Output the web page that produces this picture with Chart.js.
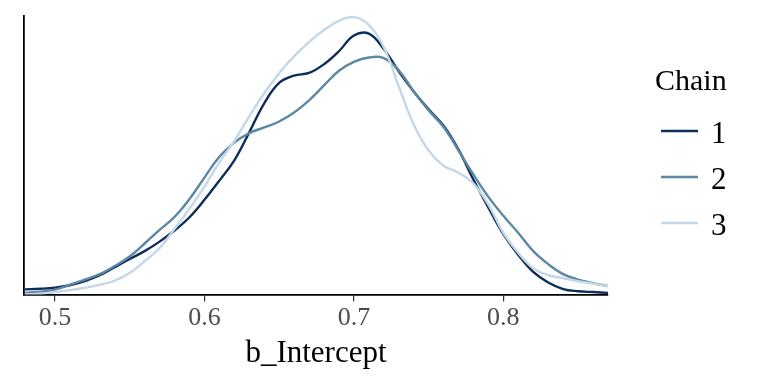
<!DOCTYPE html>
<html>
<head>
<meta charset="utf-8">
<script src="https://cdn.jsdelivr.net/npm/chart.js@4/dist/chart.umd.min.js"></script>
<style>
  html, body { margin: 0; padding: 0; background: #ffffff; }
  #wrap { width: 768px; height: 384px; position: relative; }
</style>
</head>
<body>
<div id="wrap"><canvas id="c" width="768" height="384"></canvas></div>
<script>
// x grid of the density estimates (b_Intercept)
const xValues = [0.48,0.49,0.50,0.51,0.52,0.53,0.54,0.55,0.56,0.57,0.58,0.59,0.60,0.61,0.62,0.63,0.64,0.65,0.66,0.67,0.68,0.69,0.70,0.71,0.72,0.73,0.74,0.75,0.76,0.77,0.78,0.79,0.80,0.81,0.82,0.83,0.84,0.85,0.86,0.87];
// density per chain
const chain1 = [0.19,0.21,0.25,0.34,0.49,0.71,1.01,1.31,1.60,1.95,2.36,2.85,3.49,4.20,4.95,5.98,7.05,7.80,8.07,8.17,8.49,8.97,9.55,9.62,9.05,8.23,7.49,6.83,6.22,5.34,4.23,3.20,2.23,1.46,0.83,0.44,0.20,0.12,0.09,0.06];
const chain2 = [0.06,0.10,0.18,0.36,0.55,0.75,1.05,1.40,1.88,2.38,2.86,3.52,4.31,5.08,5.60,5.95,6.16,6.38,6.71,7.16,7.71,8.25,8.58,8.74,8.72,8.27,7.49,6.79,6.18,5.31,4.42,3.60,2.90,2.27,1.60,1.12,0.75,0.55,0.42,0.31];
const chain3 = [0.01,0.03,0.09,0.16,0.25,0.36,0.51,0.79,1.23,1.71,2.42,3.16,3.97,4.87,5.66,6.57,7.42,8.16,8.79,9.31,9.75,10.09,10.23,9.94,9.12,7.68,6.27,5.31,4.75,4.49,4.09,3.31,2.27,1.53,0.97,0.71,0.60,0.49,0.40,0.31];
const chainLabels = ['1','2','3'];
const chainColors = ['#0d2d5a','#5a88a5','#c4d8e7'];
const xTicks = [0.5,0.6,0.7,0.8];
const xMin = 0.4793, xMax = 0.87;
const yMax = 10.27;

const SERIF = '"Liberation Serif", "DejaVu Serif", serif';
const series = [chain1, chain2, chain3];

const datasets = series.map((vals, i) => ({
  label: chainLabels[i],
  data: xValues.map((x, j) => ({ x: x, y: vals[j] })),
  borderColor: chainColors[i],
  backgroundColor: chainColors[i],
  borderWidth: 2.4,
  pointRadius: 0,
  fill: false,
  tension: 0.4,
  order: 3 - i
}));

const legendPlugin = {
  id: 'chainLegend',
  afterDraw(chart) {
    const ctx = chart.ctx;
    ctx.save();
    ctx.fillStyle = '#000';
    ctx.textBaseline = 'alphabetic';
    ctx.textAlign = 'left';
    ctx.font = '30px ' + SERIF;
    ctx.fillText('Chain', 655, 90);
    chart.data.datasets.forEach((ds, i) => {
      const y = 131 + i * 46;
      ctx.strokeStyle = ds.borderColor;
      ctx.lineWidth = 2.4;
      ctx.beginPath();
      ctx.moveTo(661, y);
      ctx.lineTo(698, y);
      ctx.stroke();
      ctx.fillStyle = '#000';
      ctx.font = '31px ' + SERIF;
      ctx.fillText(ds.label, 711, y + 12);
    });
    ctx.restore();
  }
};

new Chart(document.getElementById('c'), {
  type: 'line',
  data: { datasets },
  options: {
    responsive: false,
    animation: false,
    events: [],
    layout: { padding: { left: 16, right: 160, top: 16, bottom: 8 } },
    plugins: { legend: { display: false }, tooltip: { enabled: false } },
    scales: {
      x: {
        type: 'linear',
        min: xMin,
        max: xMax,
        afterBuildTicks(scale) { scale.ticks = xTicks.map(v => ({ value: v })); },
        grid: { display: true, drawOnChartArea: false, drawTicks: true, tickLength: 7, color: '#333333', lineWidth: 1.2 },
        border: { display: true, color: '#000000', width: 1.8 },
        ticks: {
          color: '#4d4d4d',
          font: { family: SERIF, size: 26, lineHeight: 1.05 },
          padding: 3,
          maxRotation: 0,
          callback: v => v.toFixed(1)
        },
        title: {
          display: true,
          text: 'b_Intercept',
          color: '#000',
          font: { family: SERIF, size: 31 },
          padding: { top: 0, bottom: 4 }
        }
      },
      y: {
        type: 'linear',
        min: 0,
        max: yMax,
        grid: { display: false },
        border: { display: true, color: '#000000', width: 1.8 },
        ticks: { display: false }
      }
    }
  },
  plugins: [legendPlugin]
});
</script>
</body>
</html>
